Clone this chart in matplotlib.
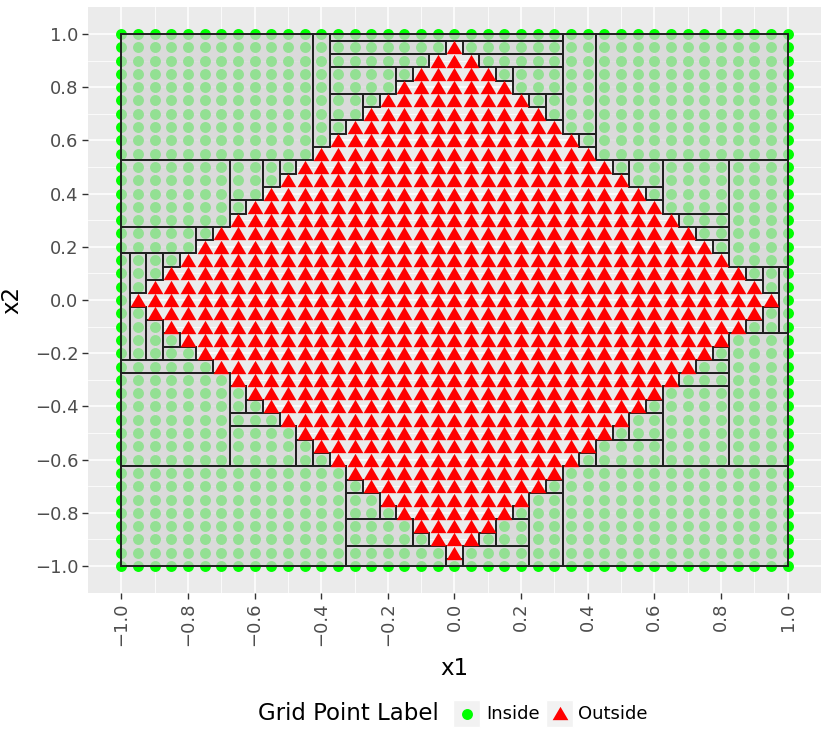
import numpy as np
import matplotlib
matplotlib.use("Agg")
import matplotlib.pyplot as plt
from matplotlib.patches import Rectangle

# grid coordinates used for both x1 and x2
grid_vals = [-1.0, -0.95, -0.9, -0.85, -0.8, -0.75, -0.7, -0.65, -0.6, -0.55,
             -0.5, -0.45, -0.4, -0.35, -0.3, -0.25, -0.2, -0.15, -0.1, -0.05,
             0.0, 0.05, 0.1, 0.15, 0.2, 0.25, 0.3, 0.35, 0.4, 0.45,
             0.5, 0.55, 0.6, 0.65, 0.7, 0.75, 0.8, 0.85, 0.9, 0.95, 1.0]

# number of "Outside" points (centred on x1 = 0) in each row, from x2 = -1 upwards
outside_per_row = [0, 1, 3, 5, 7, 9, 11, 13, 15, 17, 19, 21, 23, 25, 27, 29, 31,
                   33, 35, 37, 39, 37, 35, 33, 31, 29, 27, 25, 23, 21, 19, 17,
                   15, 13, 11, 9, 7, 5, 3, 1, 0]

# boxes covering the "Inside" points
rect_x0 = [-1.0, -0.425, -0.375, -0.375, 0.025, -0.375, 0.075, -0.375, -0.175, 0.125,
           0.175, -0.375, -0.275, 0.225, 0.275, -0.375, 0.325, 0.375, 0.425,
           -1.0, -0.675, -0.575, -0.525, -0.675, -1.0, -0.775, -1.0, -0.975, -0.925,
           -0.875, -0.975, -0.925, -0.875, -0.875, -1.0, -1.0, -0.675, -0.625, -0.675,
           -0.675, -0.475, -0.425,
           -1.0, -0.325, -0.325, -0.225, -0.325, -0.125, -0.325, -0.025, 0.025, 0.075,
           0.125, 0.175, 0.225, 0.275, 0.325,
           0.375, 0.425, 0.475, 0.525, 0.575, 0.625, 0.675, 0.725, 0.775, 0.825,
           0.875, 0.925, 0.975,
           0.875, 0.925, 0.825, 0.775, 0.725, 0.675, 0.625, 0.575, 0.525, 0.475]
rect_x1 = [-0.425, -0.375, 0.325, -0.025, 0.325, -0.075, 0.325, -0.175, -0.125, 0.175,
           0.325, -0.275, -0.225, 0.275, 0.325, -0.325, 0.425, 0.425, 1.0,
           -0.675, -0.575, -0.525, -0.475, -0.625, -0.775, -0.725, -0.975, -0.925, -0.875,
           -0.825, -0.925, -0.875, -0.825, -0.775, -0.725, -0.675, -0.625, -0.575, -0.525,
           -0.475, -0.425, -0.375,
           -0.325, -0.275, -0.225, -0.175, -0.125, -0.075, -0.025, 0.025, 0.225, 0.125,
           0.225, 0.225, 0.325, 0.325, 1.0,
           0.425, 0.625, 0.525, 0.625, 0.625, 0.825, 0.825, 0.825, 0.825, 1.0,
           0.925, 0.975, 1.0,
           0.925, 0.975, 1.0, 0.825, 0.825, 0.825, 0.825, 0.625, 0.625, 0.525]
rect_y0 = [0.525, 0.575, 0.975, 0.925, 0.925, 0.875, 0.875, 0.775, 0.825, 0.825,
           0.775, 0.675, 0.725, 0.725, 0.675, 0.625, 0.625, 0.575, 0.525,
           0.275, 0.375, 0.425, 0.475, 0.325, 0.175, 0.225, -0.225, 0.025, 0.075,
           0.125, -0.225, -0.225, -0.175, -0.225, -0.275, -0.625, -0.425, -0.425, -0.475,
           -0.625, -0.625, -0.625,
           -1.0, -0.725, -0.825, -0.825, -0.925, -0.925, -1.0, -1.0, -1.0, -0.925,
           -0.925, -0.825, -1.0, -0.725, -1.0,
           -0.625, -0.625, -0.525, -0.525, -0.425, -0.625, -0.325, -0.275, -0.225, -0.625,
           -0.125, -0.125, -0.125,
           0.075, 0.025, 0.125, 0.175, 0.225, 0.275, 0.325, 0.375, 0.425, 0.475]
rect_y1 = [1.0, 1.0, 1.0, 0.975, 0.975, 0.925, 0.925, 0.875, 0.875, 0.875,
           0.875, 0.775, 0.775, 0.775, 0.775, 0.675, 1.0, 0.625, 1.0,
           0.525, 0.525, 0.525, 0.525, 0.375, 0.275, 0.275, 0.175, 0.175, 0.175,
           0.175, -0.025, -0.075, -0.125, -0.175, -0.225, -0.275, -0.325, -0.375, -0.425,
           -0.475, -0.525, -0.575,
           -0.625, -0.675, -0.725, -0.775, -0.825, -0.875, -0.925, -0.975, -0.925, -0.875,
           -0.825, -0.775, -0.725, -0.675, -0.625,
           -0.575, -0.525, -0.475, -0.425, -0.375, -0.325, -0.275, -0.225, -0.175, -0.125,
           -0.075, -0.025, 0.125,
           0.125, 0.125, 0.525, 0.225, 0.275, 0.325, 0.525, 0.425, 0.525, 0.525]

x_ticks = [-1.0, -0.8, -0.6, -0.4, -0.2, 0.0, 0.2, 0.4, 0.6, 0.8, 1.0]
tick_labels = ["\u22121.0", "\u22120.8", "\u22120.6", "\u22120.4", "\u22120.2", "0.0",
               "0.2", "0.4", "0.6", "0.8", "1.0"]
minor_ticks = [-0.9, -0.7, -0.5, -0.3, -0.1, 0.1, 0.3, 0.5, 0.7, 0.9]

# split grid points by label
n = len(grid_vals)
centre = n // 2
ins_x, ins_y, out_x, out_y = [], [], [], []
for r, yv in enumerate(grid_vals):
    half = (outside_per_row[r] - 1) // 2 if outside_per_row[r] > 0 else -1
    for c, xv in enumerate(grid_vals):
        if abs(c - centre) <= half:
            out_x.append(xv)
            out_y.append(yv)
        else:
            ins_x.append(xv)
            ins_y.append(yv)

tri = [(0, 0.85), (-1, -0.85), (1, -0.85)]

fig = plt.figure(figsize=(8.3, 7.46), dpi=100)
ax = fig.add_axes([0.106, 0.2056, 0.8831, 0.7845])
ax.set_facecolor("#EBEBEB")
for s in ax.spines.values():
    s.set_visible(False)

ax.set_xlim(-1.1, 1.1)
ax.set_ylim(-1.1, 1.1)
ax.set_xticks(x_ticks)
ax.set_xticklabels(tick_labels, rotation=90, fontsize=13, color="#4D4D4D")
ax.set_yticks(x_ticks)
ax.set_yticklabels(tick_labels, fontsize=13, color="#4D4D4D")
ax.set_xticks(minor_ticks, minor=True)
ax.set_yticks(minor_ticks, minor=True)
ax.tick_params(which="major", length=4, width=1.0, color="#333333", pad=3)
ax.tick_params(which="minor", length=0)
ax.grid(which="major", color="white", linewidth=1.1)
ax.grid(which="minor", color="white", linewidth=0.55)
ax.set_axisbelow(True)

ax.scatter(ins_x, ins_y, s=62, color="#00FF00", linewidths=0, zorder=2)

for x0, x1, y0, y1 in zip(rect_x0, rect_x1, rect_y0, rect_y1):
    ax.add_patch(Rectangle((x0, y0), x1 - x0, y1 - y0,
                           facecolor=(211 / 255, 211 / 255, 211 / 255, 0.7),
                           edgecolor="#1f1f1f", linewidth=1.4, zorder=3))

ax.scatter(out_x, out_y, s=128, color="#FF0000", marker=tri, linewidths=0, zorder=4)

ax.set_xlabel("x1", fontsize=16.5, labelpad=8)
ax.set_ylabel("x2", fontsize=16.5, labelpad=8)

# legend drawn in pixel coordinates
lg = fig.add_axes([0, 0, 1, 1])
lg.set_xlim(0, 830)
lg.set_ylim(746, 0)
lg.axis("off")
lg.text(258, 714, "Grid Point Label", fontsize=16.5, va="center", ha="left")
lg.add_patch(Rectangle((453, 700), 27, 27, facecolor="#F2F2F2", edgecolor="white"))
lg.scatter([466.5], [713.5], s=62, color="#00FF00", linewidths=0)
lg.text(486, 714, "Inside", fontsize=13, va="center", ha="left")
lg.add_patch(Rectangle((546, 700), 27, 27, facecolor="#F2F2F2", edgecolor="white"))
lg.scatter([559.5], [712.5], s=128, color="#FF0000", marker=tri, linewidths=0)
lg.text(578, 714, "Outside", fontsize=13, va="center", ha="left")

fig.savefig("out.png", dpi=100)
